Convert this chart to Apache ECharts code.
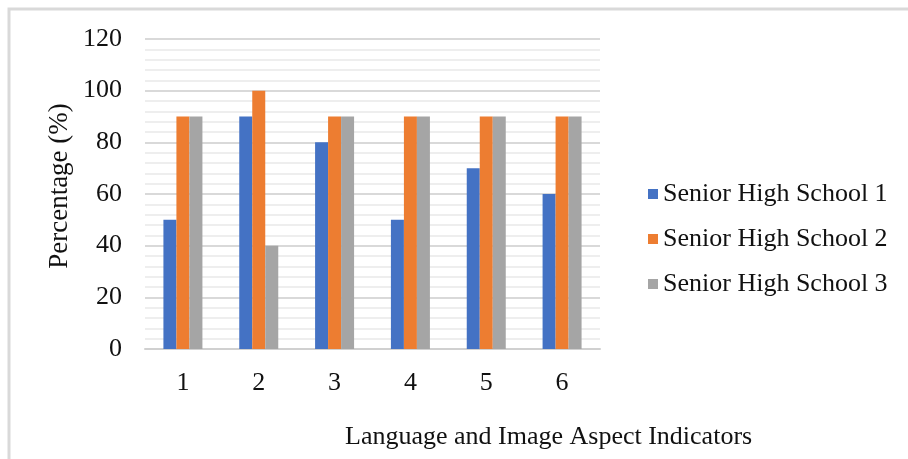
<!DOCTYPE html>
<html>
<head>
<meta charset="utf-8">
<script src="https://cdn.jsdelivr.net/npm/echarts@6/dist/echarts.min.js"></script>
<style>
  html, body { margin: 0; padding: 0; background: #fff; }
  #chart { width: 908px; height: 459px; }
</style>
</head>
<body>
<div id="chart"></div>
<script>
// Indicator categories along the x axis
const categories = ['1', '2', '3', '4', '5', '6'];

// Percentage per school for each indicator
const school1 = [50, 90, 80, 50, 70, 60];
const school2 = [90, 100, 90, 90, 90, 90];
const school3 = [90, 40, 90, 90, 90, 90];

const seriesNames = ['Senior High School 1', 'Senior High School 2', 'Senior High School 3'];
const seriesColors = ['#4472c4', '#ed7d31', '#a5a5a5'];

const FONT = '"Liberation Serif", "Times New Roman", serif';
const FS = 26;

const chart = echarts.init(document.getElementById('chart'), null, { renderer: 'canvas' });

const makeBar = (name, data, color) => ({
  name: name,
  type: 'bar',
  data: data,
  barWidth: 13,
  barGap: '0%',
  itemStyle: { color: color },
  emphasis: { disabled: true }
});

chart.setOption({
  animation: false,
  backgroundColor: '#ffffff',
  textStyle: { fontFamily: FONT },
  grid: { left: 145, right: 308, top: 39, bottom: 110 },
  legend: {
    orient: 'vertical',
    left: 643,
    top: 176,
    itemWidth: 10,
    itemHeight: 10,
    itemGap: 19,
    icon: 'rect',
    textStyle: { fontFamily: FONT, fontSize: FS, color: '#111' },
    data: seriesNames
  },
  xAxis: {
    type: 'category',
    data: categories,
    axisLine: { show: true, lineStyle: { color: '#d0d0d0', width: 2 } },
    axisTick: { show: false },
    axisLabel: { fontFamily: FONT, fontSize: FS, color: '#111', margin: 21 }
  },
  yAxis: {
    type: 'value',
    min: 0,
    max: 120,
    interval: 20,
    axisLine: { show: false },
    axisTick: { show: false },
    axisLabel: { fontFamily: FONT, fontSize: FS, color: '#111', margin: 23 },
    splitLine: { show: true, lineStyle: { color: '#d9d9d9', width: 2 } },
    minorTick: { show: false, splitNumber: 5 },
    minorSplitLine: { show: true, lineStyle: { color: '#eeeeee', width: 2 } }
  },
  graphic: [
    {
      type: 'polyline',
      shape: { points: [[9, 470], [9, 9], [920, 9]] },
      style: { stroke: '#d9d9d9', lineWidth: 3, fill: null },
      silent: true
    },
    {
      // vertical y-axis title
      type: 'text',
      x: 60,
      y: 186,
      rotation: Math.PI / 2,
      style: {
        text: 'Percentage (%)',
        font: '27px ' + FONT,
        fill: '#111',
        align: 'center',
        verticalAlign: 'middle'
      }
    },
    {
      type: 'text',
      left: 345,
      top: 424,
      style: {
        text: 'Language and Image Aspect Indicators',
        font: FS + 'px ' + FONT,
        fill: '#111'
      }
    }
  ],
  series: [
    makeBar(seriesNames[0], school1, seriesColors[0]),
    makeBar(seriesNames[1], school2, seriesColors[1]),
    makeBar(seriesNames[2], school3, seriesColors[2])
  ]
});
</script>
</body>
</html>
